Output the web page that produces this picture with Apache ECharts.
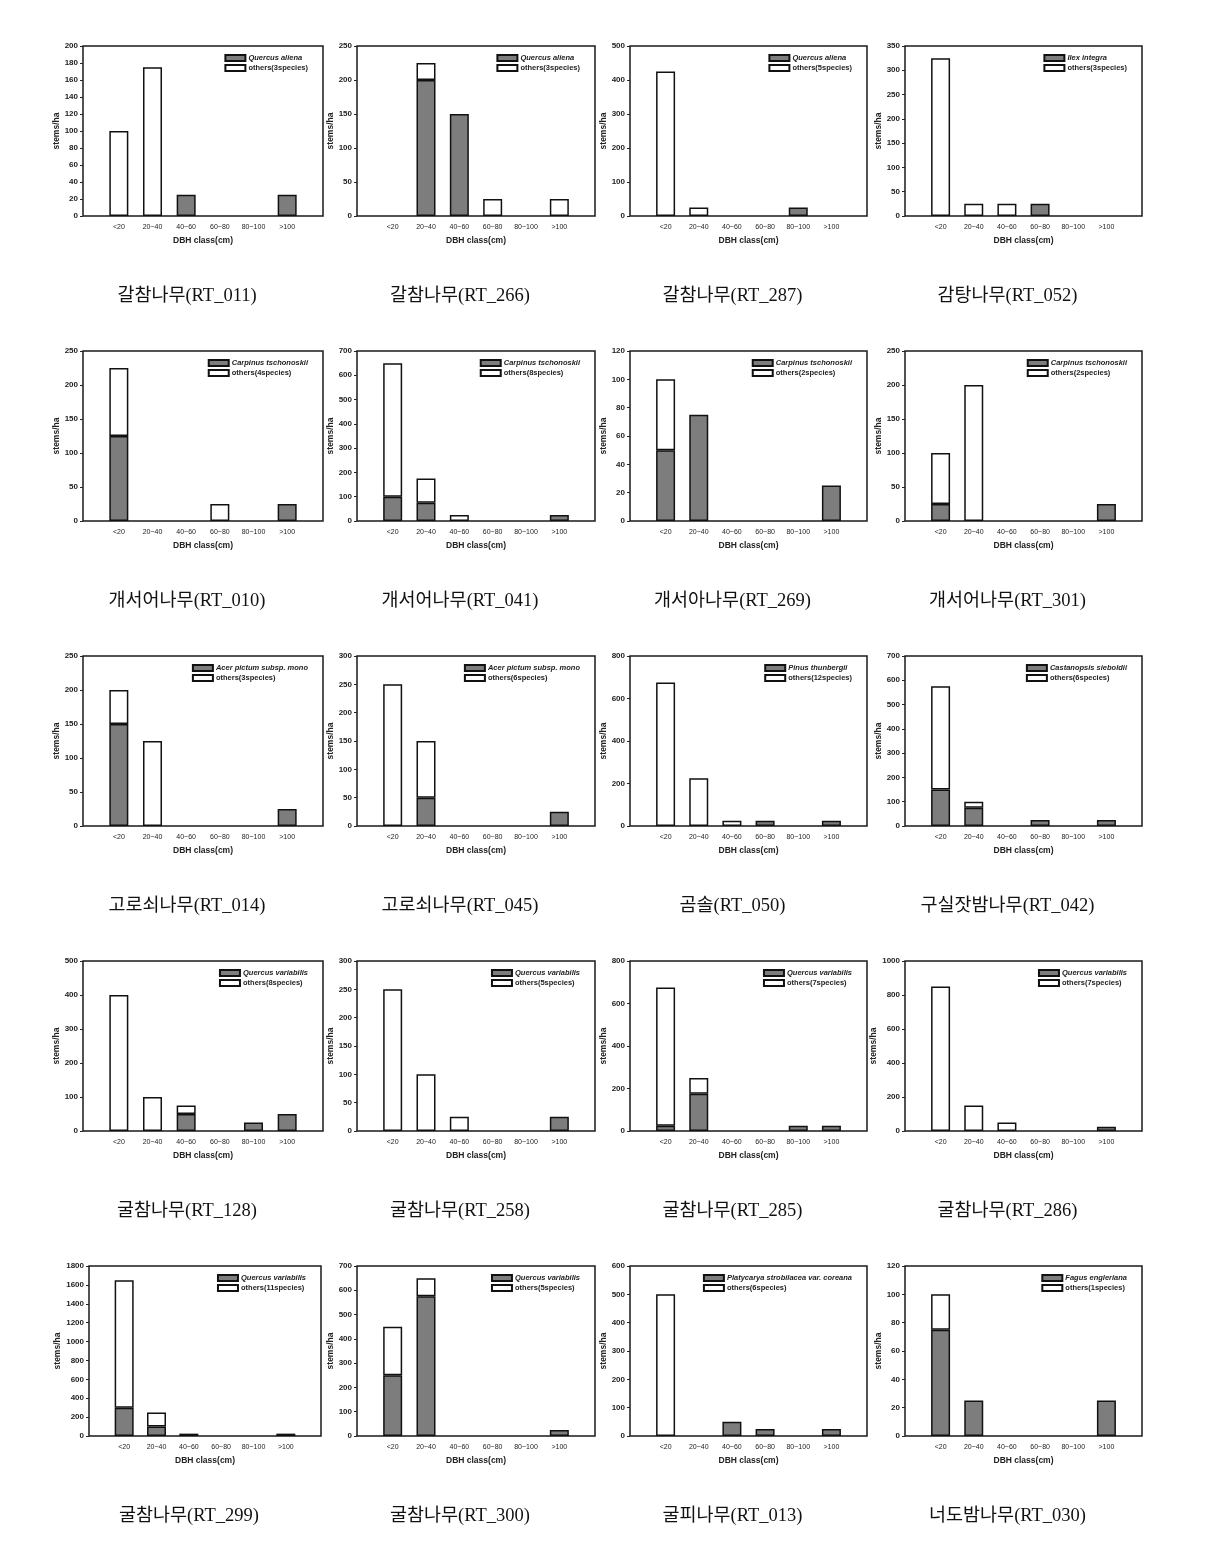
<!DOCTYPE html>
<html><head><meta charset="utf-8">
<script src="https://cdn.jsdelivr.net/npm/echarts@6/dist/echarts.min.js"></script>
<style>html,body{margin:0;padding:0;background:#fff}#c{width:1220px;height:1546px}</style>
</head><body><div id="c"></div><script>
// ---- data ----
const categories = ['<20', '20~40', '40~60', '60~80', '80~100', '>100'];
const captions = [
  '갈참나무(RT_011)', '갈참나무(RT_266)', '갈참나무(RT_287)', '감탕나무(RT_052)',
  '개서어나무(RT_010)', '개서어나무(RT_041)', '개서아나무(RT_269)', '개서어나무(RT_301)',
  '고로쇠나무(RT_014)', '고로쇠나무(RT_045)', '곰솔(RT_050)', '구실잣밤나무(RT_042)',
  '굴참나무(RT_128)', '굴참나무(RT_258)', '굴참나무(RT_285)', '굴참나무(RT_286)',
  '굴참나무(RT_299)', '굴참나무(RT_300)', '굴피나무(RT_013)', '너도밤나무(RT_030)'
];
const mainSpecies = [
  'Quercus aliena', 'Quercus aliena', 'Quercus aliena', 'Ilex integra',
  'Carpinus tschonoskii', 'Carpinus tschonoskii', 'Carpinus tschonoskii', 'Carpinus tschonoskii',
  'Acer pictum subsp. mono', 'Acer pictum subsp. mono', 'Pinus thunbergii', 'Castanopsis sieboldii',
  'Quercus variabilis', 'Quercus variabilis', 'Quercus variabilis', 'Quercus variabilis',
  'Quercus variabilis', 'Quercus variabilis', 'Platycarya strobilacea var. coreana', 'Fagus engleriana'
];
const othersLabels = [
  'others(3species)', 'others(3species)', 'others(5species)', 'others(3species)',
  'others(4species)', 'others(8species)', 'others(2species)', 'others(2species)',
  'others(3species)', 'others(6species)', 'others(12species)', 'others(6species)',
  'others(8species)', 'others(5species)', 'others(7species)', 'others(7species)',
  'others(11species)', 'others(5species)', 'others(6species)', 'others(1species)'
];
const yMax = [200, 250, 500, 350, 250, 700, 120, 250, 250, 300, 800, 700, 500, 300, 800, 1000, 1800, 700, 600, 120];
const yInterval = [20, 50, 100, 50, 50, 100, 20, 50, 50, 50, 200, 100, 100, 50, 200, 200, 200, 100, 100, 20];
const mainValues = [
  [0, 0, 25, 0, 0, 25],
  [0, 200, 150, 0, 0, 0],
  [0, 0, 0, 0, 25, 0],
  [0, 0, 0, 25, 0, 0],
  [125, 0, 0, 0, 0, 25],
  [100, 75, 0, 0, 0, 25],
  [50, 75, 0, 0, 0, 25],
  [25, 0, 0, 0, 0, 25],
  [150, 0, 0, 0, 0, 25],
  [0, 50, 0, 0, 0, 25],
  [0, 0, 0, 25, 0, 25],
  [150, 75, 0, 25, 0, 25],
  [0, 0, 50, 0, 25, 50],
  [0, 0, 0, 0, 0, 25],
  [25, 175, 0, 0, 25, 25],
  [0, 0, 0, 0, 0, 25],
  [300, 100, 25, 0, 0, 25],
  [250, 575, 0, 0, 0, 25],
  [0, 0, 50, 25, 0, 25],
  [75, 25, 0, 0, 0, 25]
];
const othersValues = [
  [100, 175, 0, 0, 0, 0],
  [0, 25, 0, 25, 0, 25],
  [425, 25, 0, 0, 0, 0],
  [325, 25, 25, 0, 0, 0],
  [100, 0, 0, 25, 0, 0],
  [550, 100, 25, 0, 0, 0],
  [50, 0, 0, 0, 0, 0],
  [75, 200, 0, 0, 0, 0],
  [50, 125, 0, 0, 0, 0],
  [250, 100, 0, 0, 0, 0],
  [675, 225, 25, 0, 0, 0],
  [425, 25, 0, 0, 0, 0],
  [400, 100, 25, 0, 0, 0],
  [250, 100, 25, 0, 0, 0],
  [650, 75, 0, 0, 0, 0],
  [850, 150, 50, 0, 0, 0],
  [1350, 150, 0, 0, 0, 0],
  [200, 75, 0, 0, 0, 0],
  [500, 0, 0, 0, 0, 0],
  [25, 0, 0, 0, 0, 0]
];

// ---- layout ----
const colLeft = [83, 357, 630, 905];
const colRight = [323, 595, 867, 1142];
const rowTop = [46, 351, 656, 961, 1266];
const plotH = 170;
const pad = 19;
const FONT = '"Liberation Sans", Arial, sans-serif';

const grid = [], xAxis = [], yAxis = [], series = [], legend = [], graphic = [];
const noZero = arr => arr.map(v => (v === 0 ? '-' : v));

for (let i = 0; i < 20; i++) {
  const r = Math.floor(i / 4), c = i % 4;
  let L = colLeft[c], R = colRight[c];
  if (i === 16) { L = 89; R = 321; }
  const T = rowTop[r];
  const gBar = grid.length;
  grid.push({ left: L + pad, top: T, width: R - L - 2 * pad, height: plotH });
  const gFrame = grid.length;
  grid.push({ left: L, top: T, width: R - L, height: plotH, show: true,
    borderColor: '#1a1a1a', borderWidth: 1.5, backgroundColor: 'transparent' });

  xAxis.push({ gridIndex: gBar, type: 'category', data: categories,
    axisLine: { show: false }, axisTick: { show: false },
    axisLabel: { interval: 0, fontSize: 7, color: '#222', margin: 8, fontFamily: FONT },
    name: 'DBH class(cm)', nameLocation: 'middle', nameGap: 20,
    nameTextStyle: { fontSize: 8.5, fontWeight: 'bold', color: '#222', fontFamily: FONT } });
  const yIdx = yAxis.length;
  const wide = String(yMax[i]).length >= 4;
  yAxis.push({ gridIndex: gBar, type: 'value', min: 0, max: yMax[i], interval: yInterval[i],
    offset: pad, axisLine: { show: false },
    axisTick: { show: true, length: 3, lineStyle: { color: '#222' } },
    splitLine: { show: false },
    axisLabel: { fontSize: 8, fontWeight: 'bold', color: '#222', margin: 5, fontFamily: FONT,
      formatter: v => String(v) },
    name: 'stems/ha', nameLocation: 'middle', nameGap: wide ? 25 : 20,
    nameTextStyle: { fontSize: 8.5, fontWeight: 'bold', color: '#222', fontFamily: FONT } });
  const xIdx = xAxis.length - 1;
  xAxis.push({ gridIndex: gFrame, type: 'value', show: false, min: 0, max: 1 });
  yAxis.push({ gridIndex: gFrame, type: 'value', show: false, min: 0, max: 1 });

  series.push({ type: 'bar', name: mainSpecies[i], xAxisIndex: xIdx, yAxisIndex: yIdx,
    stack: 'p' + i, barWidth: 19, data: noZero(mainValues[i]),
    itemStyle: { color: '#7d7d7d', borderColor: '#111', borderWidth: 1.5 } });
  series.push({ type: 'bar', name: othersLabels[i], xAxisIndex: xIdx, yAxisIndex: yIdx,
    stack: 'p' + i, barWidth: 19, data: noZero(othersValues[i]),
    itemStyle: { color: '#ffffff', borderColor: '#111', borderWidth: 1.5 } });

  legend.push({ orient: 'vertical', right: 1220 - R + 10, top: T + 3,
    itemWidth: 20, itemHeight: 6, itemGap: 2, icon: 'rect', selectedMode: false,
    textStyle: { fontSize: 7.5, fontWeight: 'bold', color: '#222', fontFamily: FONT, padding: [0, 0, 0, -2] },
    data: [{ name: mainSpecies[i], textStyle: { fontStyle: 'italic' } }, { name: othersLabels[i] }] });

  graphic.push({ type: 'text', silent: true,
    style: { x: (L + R) / 2 - 16, y: T + 250, text: captions[i], align: 'center', verticalAlign: 'middle',
      fontSize: 18.5, fontFamily: '"Liberation Serif", "Noto Sans CJK KR", serif', fill: '#111' } });
}

const chart = echarts.init(document.getElementById('c'), null, { renderer: 'canvas' });
chart.setOption({ animation: false, backgroundColor: '#fff', grid, xAxis, yAxis, series, legend, graphic });
</script></body></html>
